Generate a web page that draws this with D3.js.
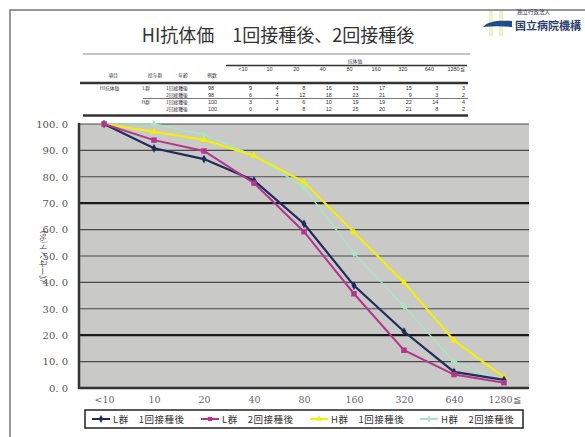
<!DOCTYPE html>
<html>
<head>
<meta charset="utf-8">
<script src="https://cdn.jsdelivr.net/npm/d3@7"></script>
<style>
  body { margin: 0; background: #fff; }
  svg { display: block; }
</style>
</head>
<body>
<svg id="chart" width="585" height="437"></svg>
<script>
// titer categories (x axis and table columns)
var titers = ['<10', '10', '20', '40', '80', '160', '320', '640', '1280≦'];
var yTicks = [0, 10, 20, 30, 40, 50, 60, 70, 80, 90, 100];

// table rows
var rowGroups = ['L群', '', 'H群', ''];
var rowDoses = ['1回接種後', '2回接種後', '1回接種後', '2回接種後'];
var rowCounts = [98, 98, 100, 100];
var countsL1 = [9, 4, 8, 16, 23, 17, 15, 3, 3];
var countsL2 = [6, 4, 12, 18, 23, 21, 9, 3, 2];
var countsH1 = [3, 3, 6, 10, 19, 19, 22, 14, 4];
var countsH2 = [0, 4, 8, 12, 25, 20, 21, 8, 2];

// plotted series (% with titer at or above the category)
var seriesNames = ['L群　1回接種後', 'L群　2回接種後', 'H群　1回接種後', 'H群　2回接種後'];
var pctL1 = [100, 90.8, 86.7, 78.6, 62.2, 38.8, 21.4, 6.1, 3.1];
var pctL2 = [100, 93.9, 89.8, 77.6, 59.2, 35.7, 14.3, 5.1, 2.0];
var pctH1 = [100, 97.0, 94.0, 88.0, 78.0, 59.0, 40.0, 18.0, 4.0];
var pctH2 = [100, 100, 96.0, 88.0, 76.0, 51.0, 31.0, 10.0, 2.0];

var colors = ['#202c5c', '#b2368e', '#f4ee0c', '#a6e6c4'];
var symbols = [d3.symbolDiamond, d3.symbolSquare, d3.symbolTriangle, d3.symbolCross];
var jp = '"Noto Sans CJK JP", sans-serif';
var serif = '"DejaVu Serif", "Liberation Serif", serif';
var num = '"Liberation Sans", sans-serif';

var svg = d3.select('#chart');

// slide frame
svg.append('path').attr('d', 'M10,437 V10 H585')
	.attr('fill', 'none').attr('stroke', '#777').attr('stroke-width', 1.5);

// title
svg.append('text').attr('x', 278).attr('y', 42).attr('text-anchor', 'middle')
	.style('font-family', jp).style('font-size', '18px').style('fill', '#333')
	.text('HI抗体価　1回接種後、2回接種後');
svg.append('line').attr('x1', 83).attr('x2', 470).attr('y1', 54).attr('y2', 54)
	.attr('stroke', '#888').attr('stroke-width', 1);

// logo
var logo = svg.append('g');
logo.append('rect').attr('x', 489).attr('y', 11).attr('width', 4).attr('height', 25).attr('fill', '#eef2c8');
logo.append('rect').attr('x', 499).attr('y', 11).attr('width', 4).attr('height', 25).attr('fill', '#eef2c8');
logo.append('path').attr('d', 'M483,27 C488,21 498,20 512,21 L512,27 C502,26 493,26 483,27 Z').attr('fill', '#1d4d8c');
logo.append('text').attr('x', 517).attr('y', 14).style('font-family', jp).style('font-size', '5.5px').style('fill', '#334').text('独立行政法人');
logo.append('text').attr('x', 515).attr('y', 30).style('font-family', jp).style('font-size', '11px')
	.style('font-weight', 'bold').style('fill', '#2c3f70').text('国立病院機構');

// table
var x = d3.scalePoint().domain(titers).range([79, 529]).padding(0.5);
var colX = d3.scalePoint().domain(titers).range([252, 465]);
var rowY = d3.scalePoint().domain(d3.range(4)).range([88, 109]);
var table = svg.append('g').style('font-family', jp).style('font-size', '4.8px').style('fill', '#333');

table.append('text').attr('x', 355).attr('y', 63).attr('text-anchor', 'middle').text('抗体価');
table.append('line').attr('x1', 226).attr('x2', 467).attr('y1', 65.5).attr('y2', 65.5).attr('stroke', '#333').attr('stroke-width', 1.5);
table.selectAll('.th').data(titers).enter().append('text')
	.attr('x', d => colX(d) - 9).attr('y', 71).attr('text-anchor', 'middle')
	.style('font-family', num).style('font-size', '5.5px').text(d => d);
[['項目', 113], ['投与群', 155], ['年齢', 183], ['例数', 212]].forEach(function (h) {
	table.append('text').attr('x', h[1]).attr('y', 77).attr('text-anchor', 'middle').text(h[0]);
});
table.append('line').attr('x1', 80).attr('x2', 468).attr('y1', 83).attr('y2', 83).attr('stroke', '#333').attr('stroke-width', 2.5);
table.append('line').attr('x1', 143).attr('x2', 468).attr('y1', 98.5).attr('y2', 98.5).attr('stroke', '#555').attr('stroke-width', 0.8);
table.append('line').attr('x1', 83).attr('x2', 468).attr('y1', 115.5).attr('y2', 115.5).attr('stroke', '#333').attr('stroke-width', 2.5);
table.append('text').attr('x', 100).attr('y', rowY(0) + 2).text('HI抗体価');

var tableRows = [countsL1, countsL2, countsH1, countsH2];
tableRows.forEach(function (vals, i) {
	var yy = rowY(i) + 2;
	table.append('text').attr('x', 150).attr('y', yy).attr('text-anchor', 'end').text(rowGroups[i]);
	table.append('text').attr('x', 166).attr('y', yy).text(rowDoses[i]);
	table.append('text').attr('x', 208).attr('y', yy).style('font-family', num).style('font-size', '5.5px').text(rowCounts[i]);
	table.selectAll('.r' + i).data(vals).enter().append('text')
		.attr('x', (d, j) => colX(titers[j])).attr('y', yy).attr('text-anchor', 'end')
		.style('font-family', num).style('font-size', '5.5px').text(d => d);
});

// plot area
var y = d3.scaleLinear().domain([0, 100]).range([388, 124]);
svg.append('rect').attr('x', 79).attr('y', 124).attr('width', 450).attr('height', 264).attr('fill', '#c9c9c7');

svg.append('g').selectAll('line').data(yTicks).enter().append('line')
	.attr('x1', 79).attr('x2', 529).attr('y1', d => y(d)).attr('y2', d => y(d))
	.attr('stroke', d => (d === 70 || d === 20) ? '#1a1a1a' : '#4a4a4a')
	.attr('stroke-width', d => (d === 70 || d === 20) ? 2.2 : 1.1);

svg.append('line').attr('x1', 79).attr('x2', 79).attr('y1', 123).attr('y2', 389).attr('stroke', '#333').attr('stroke-width', 2.5);
svg.append('line').attr('x1', 78).attr('x2', 529).attr('y1', 388).attr('y2', 388).attr('stroke', '#333').attr('stroke-width', 2.5);

var yAxis = svg.append('g').attr('transform', 'translate(79,0)')
	.call(d3.axisLeft(y).tickValues(yTicks).tickSize(0).tickPadding(11)
		.tickFormat(d => d.toFixed(1).replace('.', '. ')));
yAxis.select('.domain').remove();
yAxis.attr('font-family', null);
yAxis.selectAll('text').attr('font-family', serif).style('font-family', serif).style('font-size', '10px').style('fill', '#555');

var xAxis = svg.append('g').attr('transform', 'translate(0,388)')
	.call(d3.axisBottom(x).tickSize(0).tickPadding(8));
xAxis.select('.domain').remove();
xAxis.attr('font-family', null);
xAxis.selectAll('text').attr('font-family', serif).style('font-family', serif).style('font-size', '9.5px').style('fill', '#666');

svg.append('text').attr('transform', 'translate(46,257) rotate(-90)').attr('text-anchor', 'middle')
	.style('font-family', jp).style('font-size', '8px').style('fill', '#444').text('パーセント(%)');

// series
var series = [pctL1, pctL2, pctH1, pctH2];
var line = d3.line().x((d, i) => x(titers[i])).y(d => y(d));
var widths = [2.2, 2, 2.2, 1.4];
var order = [3, 2, 0, 1];
order.forEach(function (k) {
	var g = svg.append('g');
	g.append('path').datum(series[k]).attr('d', line)
		.attr('fill', 'none').attr('stroke', colors[k]).attr('stroke-width', widths[k]);
	g.selectAll('path.m').data(series[k]).enter().append('path').attr('class', 'm')
		.attr('transform', (d, i) => 'translate(' + x(titers[i]) + ',' + y(d) + ')')
		.attr('d', d3.symbol().type(symbols[k]).size(k === 1 ? 30 : 22))
		.attr('fill', colors[k]);
});

// legend
var legend = svg.append('g');
legend.append('rect').attr('x', 85).attr('y', 410).attr('width', 438).attr('height', 18)
	.attr('fill', '#fff').attr('stroke', '#222').attr('stroke-width', 1.5);
var legendX = [92, 201, 310, 420];
seriesNames.forEach(function (name, k) {
	var lg = legend.append('g').attr('transform', 'translate(' + legendX[k] + ',419)');
	lg.append('line').attr('x1', 0).attr('x2', 18).attr('stroke', colors[k]).attr('stroke-width', 2);
	lg.append('path').attr('transform', 'translate(9,0)').attr('d', d3.symbol().type(symbols[k]).size(18)).attr('fill', colors[k]);
	lg.append('text').attr('x', 21).attr('y', 3.5).style('font-family', jp).style('font-size', '9.5px')
		.style('fill', '#333').style('letter-spacing', '0.5px').text(name);
});
</script>
</body>
</html>
